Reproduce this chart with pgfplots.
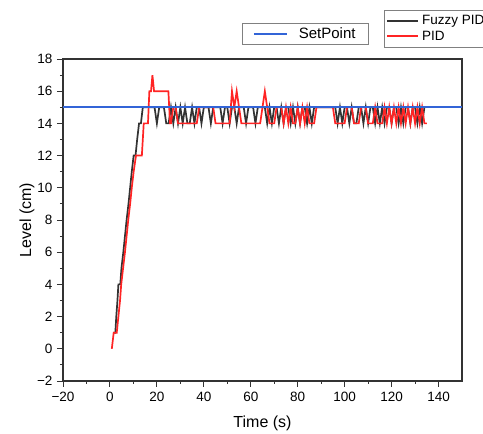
\documentclass[border=0pt]{standalone}
\usepackage{pgfplots}
\pgfplotsset{compat=1.18}
\usepackage{fontspec}
\setmainfont{Liberation Sans}
\definecolor{fuzzy}{RGB}{51,51,51}
\definecolor{pidred}{RGB}{255,36,36}
\definecolor{setblue}{RGB}{50,100,215}
\definecolor{axgray}{RGB}{51,51,51}
\begin{document}
\begin{tikzpicture}[x=1pt,y=1pt]
\path[use as bounding box] (0,0) rectangle (483,434);
\begin{axis}[at={(63pt,53pt)}, anchor=south west, width=399pt, height=322pt, scale only axis,
  xmin=-20, xmax=150, ymin=-2, ymax=18,
  xtick={-20,0,20,40,60,80,100,120,140},
  xticklabels={−20,0,20,40,60,80,100,120,140},
  ytick={-2,0,2,4,6,8,10,12,14,16,18},
  yticklabels={−2,0,2,4,6,8,10,12,14,16,18},
  minor x tick num=1, minor y tick num=1,
  tick align=outside, xtick pos=bottom, ytick pos=left,
  major tick length=6pt, minor tick length=3pt,
  tick style={axgray, line width=0.9pt},
  axis line style={axgray, line width=1.1pt},
  tick label style={font=\fontsize{13.5}{13.5}\selectfont},
  xticklabel style={yshift=-2pt},
  yticklabel style={xshift=-1pt},
  label style={font=\fontsize{16}{16}\selectfont},
  xlabel={Time (s)}, ylabel={Level (cm)},
  xlabel style={at={(axis description cs:0.5,-0.13)}, anchor=center},
  ylabel style={at={(axis description cs:-0.09,0.5)}, anchor=center},
  legend style={at={(0.8045,1.152)}, anchor=north west,
    font=\fontsize{13.5}{14}\selectfont, draw=gray, inner xsep=2pt, inner ysep=3pt,
    row sep=1pt, column sep=1pt, cells={anchor=west}},
  legend image code/.code={\draw[#1] (0pt,0pt) -- (31pt,0pt);},
]
\addplot[color=fuzzy, line width=1.7pt, forget plot] coordinates {
(1.4,1)(2.3,1)(2.7,2)(3.2,3)(3.6,4)(4.4,4)(4.9,5)(5.7,6)(6.4,7)(7.1,8)(7.9,9)(8.6,10)(9.3,11)(10.1,12)(10.9,12)(11.6,13)(12.4,14)(13.2,14)(14,15)
(15,15)(16,15)(17,15)(18,15)(19,15)(20,14)(21,15)(22,15)(23,15)(24,14)(25,14)(26,15)(27,14)(28,15)(29,14)(30,15)(31,14)(32,15)(33,14)(34,14)(35,15)(36,14)(37,15)(38,15)(39,14)(40,15)(41,15)(42,15)(43,14)(44,15)(45,15)(46,15)(47,15)(48,14)(49,15)(50,15)(51,14)(52,15)(53,15)(54,14)(55,15)(56,15)(57,15)(58,14)(59,15)(60,15)(61,15)(62,14)(63,15)(64,15)(65,15)(66,15)(67,14)(68,15)(69,14)(70,15)(71,15)(72,14)(73,15)(74,14)(75,15)(76,15)(77,14)(78,15)(79,14)(80,15)(81,14)(82,15)(83,15)(84,14)(85,15)(86,14)(87,15)(88,15)(89,15)(90,15)(91,15)(92,15)(93,15)(94,15)(95,15)(96,15)(97,14)(98,15)(99,14)(100,15)(101,15)(102,14)(103,15)(104,14)(105,14)(106,15)(107,15)(108,14)(109,15)(110,14)(111,15)(112,15)(113,14)(114,15)(115,14)(116,15)(117,14)(118,15)(119,15)(120,14)(121,15)(122,15)(123,14)(124,15)(125,14)(126,15)(127,15)(128,14)(129,15)(130,15)(131,14)(132,15)(133,14)(134,15)
};
\addplot[color=pidred, line width=1.7pt, forget plot] coordinates {
(0.8,0)(1.6,1)(2.9,1)(3.6,2)(4.3,3)(4.8,4)(5.6,5)(6.4,6)(7.1,7)(7.8,8)(8.6,9)(9.3,10)(10.1,11)(11.1,12)(13.6,12)(14.4,14)(16.2,14)(16.8,16)(17.5,16)(18.1,17)(18.8,16)(24.9,16)(25.6,14)
(26,14)(27,15)(28,15)(29,14)(30,14)(31,14)(32,14)(33,14)(34,14)(35,14)(36,14)(37,14)(38,15)(39,15)(40,15)(41,15)(42,15)(43,15)(44,15)(45,14)(46,14)(47,14)(48,14)(49,14)(50,14)(51,14)(52,16)(53,15)(54,16)(55,15)(56,14)(57,14)(58,14)(59,14)(60,14)(61,14)(62,14)(63,14)(64,14)(65,15)(66,16)(67,15)(68,14)(69,14)(70,14)(71,15)(72,15)(73,15)(74,14)(75,15)(76,14)(77,15)(78,14)(79,14)(80,15)(81,14)(82,15)(83,14)(84,15)(85,14)(86,14)(87,14)(88,15)(89,15)(90,15)(91,15)(92,15)(93,15)(94,15)(95,15)(96,14)(97,14)(98,14)(99,14)(100,14)(101,15)(102,15)(103,15)(104,14)(105,14)(106,14)(107,15)(108,15)(109,15)(110,14)(111,14)(112,14)(113,15)(114,14)(115,14)(116,14)(117,15)(118,14)(119,15)(120,14)(121,15)(122,14)(123,15)(124,14)(125,15)(126,14)(127,15)(128,14)(129,15)(130,14)(131,15)(132,14)(133,15)(134,14)(135,14)
};
\addplot[color=setblue, line width=1.9pt, forget plot] coordinates {(-20,15)(150,15)};
\addlegendimage{color=fuzzy, line width=2pt}
\addlegendentry{Fuzzy PID}
\addlegendimage{color=pidred, line width=2pt}
\addlegendentry{PID}
\end{axis}
\begin{axis}[at={(63pt,53pt)}, anchor=south west, width=399pt, height=322pt, scale only axis,
  xmin=-20, xmax=150, ymin=-2, ymax=18, hide axis,
  legend style={at={(0.448,1.112)}, anchor=north west,
    font=\fontsize{15}{15}\selectfont, draw=gray, inner xsep=11pt, inner ysep=2.5pt, column sep=9pt},
  legend image code/.code={\draw[#1] (0pt,0pt) -- (33pt,0pt);},
]
\addlegendimage{color=setblue, line width=1.9pt}
\addlegendentry{SetPoint}
\end{axis}
\end{tikzpicture}
\end{document}
